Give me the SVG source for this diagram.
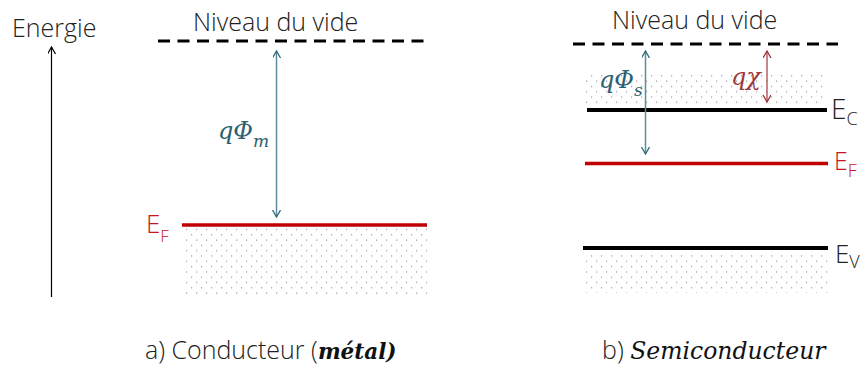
<svg xmlns="http://www.w3.org/2000/svg" width="864" height="371" viewBox="0 0 864 371">
<style>
.sans{font-family:"Open Sans","Lato","Liberation Sans",sans-serif;font-weight:300;}
.lbl{font-size:25px;fill:#222;}
.math{font-family:"DejaVu Serif","Liberation Serif",serif;font-style:italic;}
.cap{font-family:"DejaVu Serif","Liberation Serif",serif;font-style:italic;fill:#111;}
.dash{stroke:#000;stroke-width:3;stroke-dasharray:12 7.5;fill:none;}
.band{stroke:#000;stroke-width:4;}
.fermi{stroke:#c00000;stroke-width:3.5;}
.red{fill:#c8161e;}
</style>
<defs>
<pattern id="dots" patternUnits="userSpaceOnUse" width="10" height="10.6">
<rect x="1" y="1" width="1.2" height="1.2" fill="#9a9a9a"/>
<rect x="6" y="6.3" width="1.2" height="1.2" fill="#9a9a9a"/>
</pattern>
<marker id="hk" markerWidth="10" markerHeight="10" refX="7" refY="4" orient="auto-start-reverse" markerUnits="userSpaceOnUse">
<path d="M0,0 L7,4 L0,8" fill="none" stroke="#000" stroke-width="1.2"/>
</marker>
<marker id="ht" markerWidth="10" markerHeight="10" refX="7" refY="4" orient="auto-start-reverse" markerUnits="userSpaceOnUse">
<path d="M0,0 L7,4 L0,8" fill="none" stroke="#2f6878" stroke-width="1.3"/>
</marker>
<marker id="hr" markerWidth="10" markerHeight="10" refX="7" refY="4" orient="auto-start-reverse" markerUnits="userSpaceOnUse">
<path d="M0,0 L7,4 L0,8" fill="none" stroke="#a02f36" stroke-width="1.3"/>
</marker>
</defs>

<g id="axis">
<text class="sans lbl" x="12" y="37">Energie</text>
</g>

<g id="metal">
<text class="sans lbl" x="193" y="31">Niveau du vide</text>
<line class="dash" x1="158" y1="41" x2="427" y2="41"/>
<rect x="182" y="228" width="245" height="69" fill="url(#dots)"/>
<line class="fermi" x1="182" y1="225" x2="427" y2="225"/>
<text class="sans red" x="146" y="233" font-size="26">E<tspan font-size="17" dy="9">F</tspan></text>
<text class="math" x="218" y="139" font-size="24" fill="#2b6070">qΦ<tspan font-size="17" dy="8">m</tspan></text>
<text class="sans lbl" x="145" y="359">a) Conducteur (<tspan class="cap" font-weight="bold" font-size="21.5">métal)</tspan></text>
</g>

<g id="semiconductor">
<text class="sans lbl" x="612" y="29">Niveau du vide</text>
<line class="dash" x1="573" y1="44" x2="838" y2="44"/>
<rect x="586" y="75" width="239" height="32" fill="url(#dots)"/>
<line class="band" x1="587" y1="110" x2="827" y2="110"/>
<text class="sans" x="831" y="119" font-size="28" fill="#222">E<tspan font-size="18" dy="6">C</tspan></text>
<line class="fermi" x1="585" y1="163.5" x2="828" y2="163.5"/>
<text class="sans red" x="834" y="170" font-size="25">E<tspan font-size="18" dy="7">F</tspan></text>
<rect x="583" y="252" width="245" height="41" fill="url(#dots)"/>
<line class="band" x1="583" y1="248" x2="828" y2="248"/>
<text class="sans" x="835" y="263" font-size="26" fill="#222">E<tspan font-size="18" dy="5">V</tspan></text>
<text class="math" x="599" y="88" font-size="24" fill="#2b6070">qΦ<tspan font-size="17" dy="8">s</tspan></text>
<text class="math" x="731" y="85" font-size="24" fill="#9b3a40">qχ</text>
<text class="sans lbl" x="602" y="359">b) <tspan class="cap" font-size="23.5">Semiconducteur</tspan></text>
</g>

<g id="connectors">
<line x1="51.5" y1="297" x2="51.5" y2="47" stroke="#000" stroke-width="1.2" marker-end="url(#hk)"/>
<line x1="276.5" y1="51" x2="276.5" y2="217" stroke="#5b8c99" stroke-width="1.5" marker-start="url(#ht)" marker-end="url(#ht)"/>
<line x1="645.5" y1="51" x2="645.5" y2="154" stroke="#5b8c99" stroke-width="1.5" marker-start="url(#ht)" marker-end="url(#ht)"/>
<line x1="767" y1="51" x2="767" y2="102" stroke="#a8474d" stroke-width="1.3" marker-start="url(#hr)" marker-end="url(#hr)"/>
</g>
</svg>
